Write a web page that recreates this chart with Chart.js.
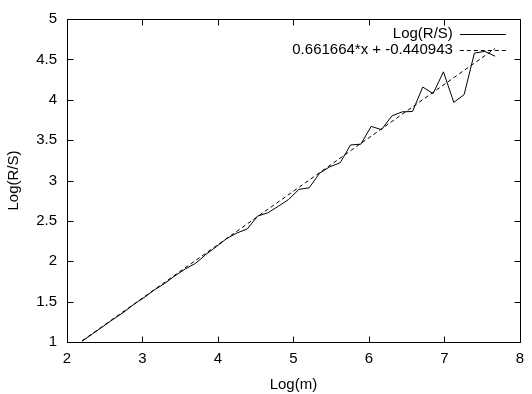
<!DOCTYPE html>
<html>
<head>
<meta charset="utf-8">
<script src="https://cdn.jsdelivr.net/npm/chart.js@4/dist/chart.umd.min.js"></script>
<style>
  html, body { margin: 0; padding: 0; background: #fff; }
  #wrap { width: 532px; height: 394px; }
</style>
</head>
<body>
<div id="wrap"><canvas id="rs" width="532" height="394"></canvas></div>
<script>
// log(m) values and measured log(R/S)
const logM = [
  2.200, 2.337, 2.474, 2.610, 2.747, 2.884, 3.021, 3.158, 3.294, 3.431,
  3.568, 3.705, 3.842, 3.978, 4.115, 4.252, 4.389, 4.526, 4.662, 4.799,
  4.936, 5.073, 5.210, 5.346, 5.483, 5.620, 5.757, 5.894, 6.030, 6.167,
  6.304, 6.441, 6.578, 6.714, 6.851, 6.988, 7.125, 7.262, 7.398, 7.535,
  7.672
];
const logRS = [
  1.01, 1.10, 1.19, 1.28, 1.365, 1.465, 1.55, 1.645, 1.725, 1.82,
  1.905, 1.975, 2.085, 2.18, 2.28, 2.35, 2.40, 2.56, 2.60, 2.68,
  2.765, 2.89, 2.91, 3.09, 3.17, 3.22, 3.44, 3.45, 3.67, 3.63,
  3.80, 3.85, 3.855, 4.157, 4.076, 4.346, 3.967, 4.064, 4.578, 4.599,
  4.539
];
// fitted line end points (0.661664*x - 0.440943)
const fitX = [2.200, 7.672];
const fitY = [1.015, 4.635];
const seriesLabels = ["Log(R/S)", "0.661664*x + -0.440943"];
const xTicks = [2, 3, 4, 5, 6, 7, 8];
const yTicks = [1, 1.5, 2, 2.5, 3, 3.5, 4, 4.5, 5];

const FONT = "'Liberation Sans', Arial, Helvetica, sans-serif";
Chart.defaults.font.family = FONT;
Chart.defaults.font.size = 15;
Chart.defaults.color = "#000";

const toPoints = (xs, ys) => xs.map((x, i) => ({ x: x, y: ys[i] }));

// gnuplot style frame: border box + inward ticks on all sides
const framePlugin = {
  id: "frame",
  afterDatasetsDraw(chart) {
    const { ctx, chartArea: a, scales } = chart;
    const L = Math.round(a.left) + 0.5, R = Math.round(a.right) + 0.5;
    const T = Math.round(a.top) + 0.5, B = Math.round(a.bottom) + 0.5;
    const tl = 6;
    ctx.save();
    ctx.strokeStyle = "#000";
    ctx.lineWidth = 1;
    ctx.beginPath();
    ctx.rect(L, T, R - L, B - T);
    xTicks.forEach((v) => {
      const px = Math.round(scales.x.getPixelForValue(v)) + 0.5;
      ctx.moveTo(px, B); ctx.lineTo(px, B - tl);
      ctx.moveTo(px, T); ctx.lineTo(px, T + tl);
    });
    yTicks.forEach((v) => {
      const py = Math.round(scales.y.getPixelForValue(v)) + 0.5;
      ctx.moveTo(L, py); ctx.lineTo(L + tl, py);
      ctx.moveTo(R, py); ctx.lineTo(R - tl, py);
    });
    ctx.stroke();

    // key, top right inside the plot
    ctx.font = "15px " + FONT;
    ctx.fillStyle = "#000";
    ctx.textAlign = "right";
    ctx.textBaseline = "middle";
    const rows = [a.top + 14.5, a.top + 31];
    chart.data.datasets.forEach((ds, i) => {
      const y = Math.round(rows[i]) + 0.5;
      ctx.fillText(ds.label, a.right - 67, rows[i]);
      ctx.beginPath();
      ctx.setLineDash(ds.borderDash || []);
      ctx.moveTo(a.right - 60, y);
      ctx.lineTo(a.right - 14, y);
      ctx.stroke();
    });
    ctx.restore();
  }
};

new Chart(document.getElementById("rs"), {
  type: "line",
  data: {
    datasets: [
      {
        label: seriesLabels[0],
        data: toPoints(logM, logRS),
        borderColor: "#000",
        borderWidth: 1,
        pointRadius: 0,
        tension: 0,
        fill: false
      },
      {
        label: seriesLabels[1],
        data: toPoints(fitX, fitY),
        borderColor: "#000",
        borderWidth: 1,
        borderDash: [4, 3],
        pointRadius: 0,
        tension: 0,
        fill: false
      }
    ]
  },
  options: {
    responsive: false,
    animation: false,
    devicePixelRatio: 1,
    // label overhang (9px top, ~4px right) is added on top of this
    layout: { padding: { top: 1, right: 4, left: 0, bottom: 0 } },
    plugins: {
      legend: { display: false },
      tooltip: { enabled: false }
    },
    scales: {
      x: {
        type: "linear",
        min: 2,
        max: 8,
        afterBuildTicks: (scale) => { scale.ticks = xTicks.map((v) => ({ value: v })); },
        afterFit: (scale) => { scale.height = 52; },
        grid: { display: false, drawTicks: false },
        border: { display: false },
        ticks: { padding: 8, callback: (v) => String(v) },
        title: { display: true, text: "Log(m)", padding: { top: 3, bottom: 0 } }
      },
      y: {
        type: "linear",
        min: 1,
        max: 5,
        afterBuildTicks: (scale) => { scale.ticks = yTicks.map((v) => ({ value: v })); },
        afterFit: (scale) => { scale.width = 67; },
        grid: { display: false, drawTicks: false },
        border: { display: false },
        ticks: { padding: 10, callback: (v) => String(v) },
        title: { display: true, text: "Log(R/S)", padding: { top: 5, bottom: 0 } }
      }
    }
  },
  plugins: [framePlugin]
});
</script>
</body>
</html>
